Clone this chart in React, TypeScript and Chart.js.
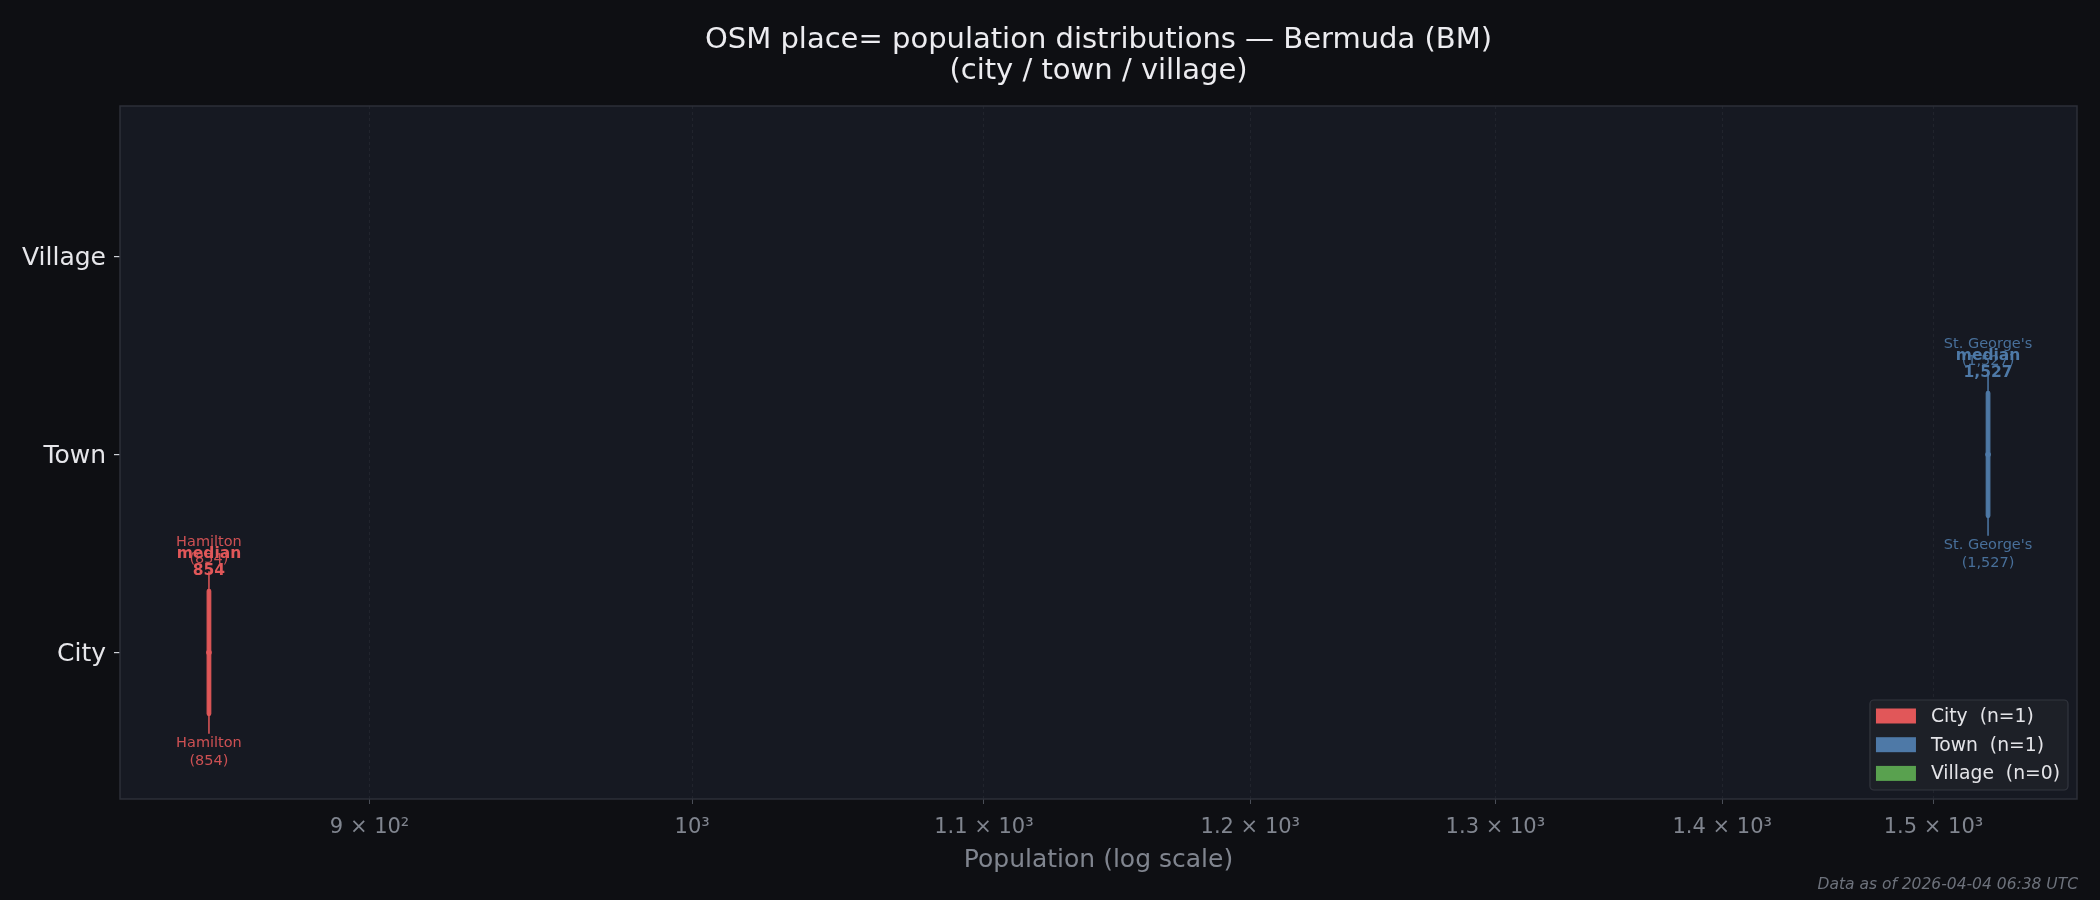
import { useEffect, useRef } from 'react';
import { Chart, registerables } from 'chart.js';

Chart.register(...registerables);

// categories on the y axis (bottom to top)
const categories = ['City', 'Town', 'Village'];
const categoryColors = ['#e15759', '#4e79a7', '#59a14f'];

// places and populations per category
const cityPlaces = ['Hamilton'];
const cityPopulation = [854];
const townPlaces = ["St. George's"];
const townPopulation = [1527];
const villagePlaces: string[] = [];
const villagePopulation: number[] = [];

// x tick values (log axis)
const xTickValues = [900, 1000, 1100, 1200, 1300, 1400, 1500];

const FONT = '"DejaVu Sans", "Noto Sans", sans-serif';

const groups = [
  { places: cityPlaces, values: cityPopulation },
  { places: townPlaces, values: townPopulation },
  { places: villagePlaces, values: villagePopulation },
];

const allValues = [...cityPopulation, ...townPopulation, ...villagePopulation];
const logLo = Math.log10(Math.min(...allValues));
const logHi = Math.log10(Math.max(...allValues));
const logPad = (logHi - logLo) * 0.05;
const xMin = Math.pow(10, logLo - logPad);
const xMax = Math.pow(10, logHi + logPad);

const SUP: Record<string, string> = {
  '0': '⁰', '1': '¹', '2': '²', '3': '³', '4': '⁴',
  '5': '⁵', '6': '⁶', '7': '⁷', '8': '⁸', '9': '⁹', '-': '⁻',
};

function sciLabel(v: number) {
  const exp = Math.floor(Math.log10(v) + 1e-9);
  const mant = v / Math.pow(10, exp);
  const pow = '10' + String(exp).split('').map(c => SUP[c]).join('');
  if (Math.abs(mant - 1) < 1e-9) return pow;
  return `${+mant.toFixed(1)} × ${pow}`;
}

function quantile(sorted: number[], p: number) {
  const pos = (sorted.length - 1) * p;
  const lo = Math.floor(pos);
  const hi = Math.ceil(pos);
  return sorted[lo] + (sorted[hi] - sorted[lo]) * (pos - lo);
}

const fmt = (v: number) => v.toLocaleString('en-US');

const backgroundPlugin = {
  id: 'bg',
  beforeDraw(chart: any) {
    const { ctx, chartArea: a, width, height } = chart;
    ctx.save();
    ctx.fillStyle = '#0e0f13';
    ctx.fillRect(0, 0, width, height);
    ctx.fillStyle = '#161922';
    ctx.fillRect(a.left, a.top, a.right - a.left, a.bottom - a.top);
    ctx.restore();
  },
};

const boxPlugin = {
  id: 'boxes',
  beforeDatasetsDraw(chart: any) {
    const { ctx } = chart;
    const xs = chart.scales.x;
    const ys = chart.scales.y;
    ctx.save();
    groups.forEach((g, i) => {
      if (!g.values.length) return;
      const color = categoryColors[i];
      const sorted = [...g.values].sort((a, b) => a - b);
      const q1 = quantile(sorted, 0.25);
      const med = quantile(sorted, 0.5);
      const q3 = quantile(sorted, 0.75);
      const xMed = xs.getPixelForValue(med);
      // connector line
      ctx.strokeStyle = color;
      ctx.lineWidth = 1.5;
      ctx.beginPath();
      ctx.moveTo(xMed, ys.getPixelForValue(i + 0.41));
      ctx.lineTo(xMed, ys.getPixelForValue(i - 0.41));
      ctx.stroke();
      // box
      const x1 = xs.getPixelForValue(q1);
      const x3 = xs.getPixelForValue(q3);
      const yTop = ys.getPixelForValue(i + 0.31);
      const yBot = ys.getPixelForValue(i - 0.31);
      ctx.lineWidth = 4.8;
      ctx.lineJoin = 'round';
      ctx.globalAlpha = 0.95;
      ctx.fillStyle = color;
      ctx.fillRect(x1, yTop, x3 - x1, yBot - yTop);
      ctx.strokeRect(x1, yTop, x3 - x1, yBot - yTop);
      ctx.globalAlpha = 1;

      // labels
      const minIdx = g.values.indexOf(sorted[0]);
      const maxIdx = g.values.indexOf(sorted[sorted.length - 1]);
      const xMinPx = xs.getPixelForValue(sorted[0]);
      const xMaxPx = xs.getPixelForValue(sorted[sorted.length - 1]);
      ctx.textAlign = 'center';
      ctx.textBaseline = 'middle';
      ctx.fillStyle = color;
      ctx.globalAlpha = 0.9;
      ctx.font = `14.5px ${FONT}`;
      ctx.fillText(g.places[maxIdx], xMaxPx, ys.getPixelForValue(i + 0.556));
      ctx.fillText(`(${fmt(sorted[sorted.length - 1])})`, xMaxPx, ys.getPixelForValue(i + 0.47));
      ctx.fillText(g.places[minIdx], xMinPx, ys.getPixelForValue(i - 0.46));
      ctx.fillText(`(${fmt(sorted[0])})`, xMinPx, ys.getPixelForValue(i - 0.548));
      ctx.globalAlpha = 1;
      ctx.font = `bold 15.5px ${FONT}`;
      ctx.fillText('median', xMed, ys.getPixelForValue(i + 0.5));
      ctx.fillText(fmt(med), xMed, ys.getPixelForValue(i + 0.414));
    });
    ctx.restore();
  },
};

const decorPlugin = {
  id: 'decor',
  afterDraw(chart: any) {
    const { ctx, chartArea: a } = chart;
    ctx.save();
    // spines
    ctx.strokeStyle = '#2c2f38';
    ctx.lineWidth = 1.5;
    ctx.strokeRect(a.left, a.top, a.right - a.left, a.bottom - a.top);

    // title
    const cx = (a.left + a.right) / 2;
    ctx.fillStyle = '#ececf0';
    ctx.textAlign = 'center';
    ctx.textBaseline = 'middle';
    ctx.font = `29px ${FONT}`;
    ctx.fillText('OSM place= population distributions — Bermuda (BM)', cx, 40.5);
    ctx.fillText('(city / town / village)', cx, 71);

    // footer
    ctx.fillStyle = '#6d727c';
    ctx.textAlign = 'right';
    ctx.font = `italic 15.5px ${FONT}`;
    ctx.fillText('Data as of 2026-04-04 06:38 UTC', 2078, 885);

    // legend
    ctx.font = `18.75px ${FONT}`;
    const labels = groups.map((g, i) => `${categories[i]}  (n=${g.values.length})`);
    const textW = Math.max(...labels.map(l => ctx.measureText(l).width));
    const boxW = 6 + 40 + 15 + textW + 8;
    const rowH = 28.7;
    const boxH = 90;
    const bx = a.right - 9 - boxW;
    const by = a.bottom - 9 - boxH;
    ctx.beginPath();
    ctx.roundRect(bx, by, boxW, boxH, 4);
    ctx.fillStyle = '#1d2027';
    ctx.fill();
    ctx.strokeStyle = '#33363f';
    ctx.lineWidth = 1.2;
    ctx.stroke();
    ctx.textAlign = 'left';
    labels.forEach((l, i) => {
      const cy = by + 16 + rowH * i;
      ctx.fillStyle = categoryColors[i];
      ctx.fillRect(bx + 6, cy - 7.5, 40, 15);
      ctx.fillStyle = '#e4e4e8';
      ctx.fillText(l, bx + 61, cy + 1);
    });
    ctx.restore();
  },
};

export default function App() {
  const canvasRef = useRef<HTMLCanvasElement>(null);
  const chartRef = useRef<Chart | null>(null);

  useEffect(() => {
    if (!canvasRef.current) return;
    if (chartRef.current) chartRef.current.destroy();

    chartRef.current = new Chart(canvasRef.current, {
      type: 'scatter',
      data: {
        datasets: groups.map((g, i) => ({
          label: categories[i],
          data: g.values.map(v => ({ x: v, y: i })),
          backgroundColor: categoryColors[i],
          borderColor: categoryColors[i],
          pointRadius: 2.8,
          borderWidth: 0,
        })),
      },
      options: {
        animation: false,
        responsive: true,
        maintainAspectRatio: false,
        devicePixelRatio: 1,
        layout: { padding: { top: 106, right: 23, left: 0, bottom: 0 } },
        plugins: {
          legend: { display: false },
          title: { display: false },
          tooltip: { enabled: false },
        },
        scales: {
          x: {
            type: 'logarithmic',
            min: xMin,
            max: xMax,
            afterBuildTicks: (axis: any) => {
              axis.ticks = xTickValues.map(v => ({ value: v }));
            },
            afterFit: (axis: any) => {
              axis.height = 101;
            },
            ticks: {
              color: '#80858f',
              font: { family: FONT, size: 21 },
              padding: 11,
              maxRotation: 0,
              autoSkip: false,
              callback: (v: any) => sciLabel(Number(v)),
            },
            grid: {
              color: 'rgba(255,255,255,0.05)',
              tickColor: '#4a4e57',
              tickLength: 5,
              lineWidth: 1,
            },
            border: { display: false, dash: [3, 3] },
            title: {
              display: true,
              text: 'Population (log scale)',
              color: '#80858f',
              font: { family: FONT, size: 25 },
              padding: { top: 0, bottom: 25 },
            },
          },
          y: {
            type: 'linear',
            min: -0.74,
            max: 2.76,
            afterBuildTicks: (axis: any) => {
              axis.ticks = categories.map((_, i) => ({ value: i }));
            },
            afterFit: (axis: any) => {
              axis.width = 120;
            },
            ticks: {
              color: '#e6e6ea',
              font: { family: FONT, size: 25 },
              padding: 8,
              labelOffset: 2,
              callback: (v: any) => categories[Number(v)] ?? '',
            },
            grid: {
              drawOnChartArea: false,
              tickColor: '#cfd2d8',
              tickLength: 6,
              lineWidth: 1.2,
            },
            border: { display: false },
          },
        },
      },
      plugins: [backgroundPlugin, boxPlugin, decorPlugin],
    } as any);

    return () => {
      if (chartRef.current) {
        chartRef.current.destroy();
        chartRef.current = null;
      }
    };
  }, []);

  return (
    <div style={{ position: 'fixed', left: 0, top: 0, width: 2100, height: 900, background: '#0e0f13' }}>
      <canvas ref={canvasRef} />
    </div>
  );
}
